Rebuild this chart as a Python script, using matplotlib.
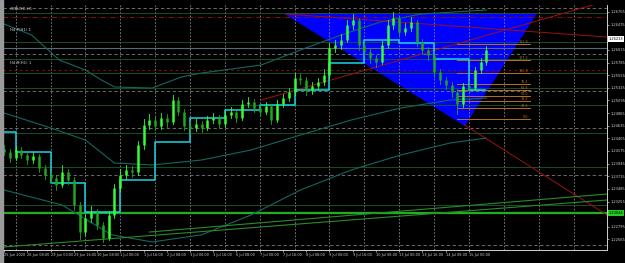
import numpy as np
import matplotlib.pyplot as plt
from matplotlib.patches import Polygon, Rectangle

# ---- data (bar index = hours since 25 Jun 16:00, weekends skipped) ----
candle_x = list(range(0, 336, 4))
open0 = 1.2422
closes = [1.2416, 1.2405, 1.2419, 1.2410, 1.2401, 1.2408, 1.2387, 1.2374, 1.2368, 1.2356,
          1.2379, 1.2365, 1.2319, 1.2270, 1.2296, 1.2307, 1.2283, 1.2259, 1.2301, 1.2350,
          1.2374, 1.2383, 1.2379, 1.2428, 1.2465, 1.2474, 1.2463, 1.2478, 1.2470, 1.2510,
          1.2489, 1.2463, 1.2459, 1.2467, 1.2459, 1.2474, 1.2478, 1.2467, 1.2483, 1.2489,
          1.2478, 1.2503, 1.2507, 1.2496, 1.2489, 1.2499, 1.2474, 1.2503, 1.2514, 1.2525,
          1.2550, 1.2547, 1.2528, 1.2536, 1.2543, 1.2556, 1.2605, 1.2610, 1.2620, 1.2647,
          1.2656, 1.2610, 1.2598, 1.2587, 1.2579, 1.2610, 1.2647, 1.2660, 1.2634, 1.2641,
          1.2652, 1.2616, 1.2601, 1.2592, 1.2561, 1.2547, 1.2538, 1.2525, 1.2503, 1.2536,
          1.2532, 1.2565, 1.2579, 1.2601]
highs = [1.2428, 1.2421, 1.2426, 1.2424, 1.2415, 1.2416, 1.2412, 1.2392, 1.2381, 1.2373,
         1.2392, 1.2385, 1.2370, 1.2324, 1.2303, 1.2318, 1.2312, 1.2288, 1.2309, 1.2358,
         1.2385, 1.2392, 1.2390, 1.2436, 1.2476, 1.2484, 1.2480, 1.2487, 1.2484, 1.2520,
         1.2516, 1.2494, 1.2470, 1.2475, 1.2472, 1.2481, 1.2486, 1.2483, 1.2490, 1.2497,
         1.2494, 1.2511, 1.2515, 1.2512, 1.2501, 1.2506, 1.2503, 1.2510, 1.2521, 1.2533,
         1.2559, 1.2558, 1.2552, 1.2543, 1.2550, 1.2566, 1.2614, 1.2620, 1.2630, 1.2655,
         1.2667, 1.2660, 1.2615, 1.2603, 1.2592, 1.2618, 1.2655, 1.2670, 1.2664, 1.2650,
         1.2661, 1.2656, 1.2622, 1.2607, 1.2597, 1.2566, 1.2553, 1.2543, 1.2530, 1.2542,
         1.2545, 1.2571, 1.2586, 1.2608]
lows = [1.2410, 1.2398, 1.2401, 1.2404, 1.2393, 1.2396, 1.2380, 1.2366, 1.2360, 1.2347,
        1.2352, 1.2357, 1.2310, 1.2258, 1.2264, 1.2289, 1.2275, 1.2252, 1.2255, 1.2296,
        1.2344, 1.2366, 1.2370, 1.2374, 1.2422, 1.2458, 1.2455, 1.2457, 1.2462, 1.2466,
        1.2483, 1.2456, 1.2451, 1.2453, 1.2452, 1.2455, 1.2468, 1.2460, 1.2462, 1.2477,
        1.2471, 1.2474, 1.2497, 1.2489, 1.2481, 1.2484, 1.2466, 1.2470, 1.2498, 1.2508,
        1.2520, 1.2539, 1.2520, 1.2522, 1.2530, 1.2538, 1.2551, 1.2598, 1.2603, 1.2615,
        1.2640, 1.2602, 1.2590, 1.2578, 1.2570, 1.2575, 1.2605, 1.2640, 1.2626, 1.2628,
        1.2636, 1.2609, 1.2594, 1.2584, 1.2553, 1.2540, 1.2530, 1.2516, 1.2484, 1.2498,
        1.2524, 1.2528, 1.2560, 1.2574]

# daily step line (cyan)
step_x = [-1, 8, 32, 56, 80, 104, 128, 152, 176, 200, 224, 248, 272, 296, 320, 331]
step_y = [1.24526, 1.24162, 1.23592, 1.23065, 1.23647, 1.24339, 1.24775, 1.24921, 1.25012,
          1.25285, 1.25776, 1.26195, 1.26140, 1.25849, 1.25285, 1.25285]

# slow moving-average curves (teal)
ma_x = [[0, 19, 38, 56, 67, 76, 102, 122, 136, 177, 204, 232, 259, 287, 332],
        [0, 26, 56, 76, 102, 136, 170, 204, 239, 273, 307, 332],
        [0, 40, 74, 102, 136, 170, 204, 239, 273, 307, 332]]
ma_y = [[1.26486, 1.26286, 1.25831, 1.25649, 1.25467, 1.25340, 1.25321, 1.25522, 1.25594,
         1.25740, 1.26013, 1.26286, 1.26523, 1.26668, 1.26741],
        [1.24866, 1.24648, 1.24375, 1.23956, 1.23920, 1.24011, 1.24193, 1.24466, 1.24739,
         1.24957, 1.25103, 1.25139],
        [1.23465, 1.23192, 1.22650, 1.22519, 1.22650, 1.23010, 1.23465, 1.23829, 1.24102,
         1.24320, 1.24411]]

# blue triangle and fibo
tri_x = [194, 366, 317]
tri_y = [1.26668, 1.26668, 1.24648]
fib_low, fib_high = 1.24757, 1.25600
fib_levels = [0.0, 23.6, 38.2, 50.0, 61.8, 76.4, 100.0, 127.2, 161.8]
fib_x = (312, 362)

# trend lines
red_lines = [((194, 1.26668), (415, 1.26249)),
             ((177, 1.25103), (417, 1.26923)),
             ((317, 1.24648), (415, 1.23010))]
green_lines = [((0, 1.22428), (415, 1.23283)),
               ((100, 1.22700), (415, 1.23392))]

grey_levels = [1.26777, 1.25940, 1.25267, 1.24593, 1.23738, 1.22464]
green_levels = [1.26686, 1.26159, 1.25849, 1.25594, 1.25321, 1.25012, 1.24502, 1.23884, 1.23192]
slate_level = 1.26049
red_level = 1.26614
red_dash_level = 1.25649
main_level = 1.23046
bid_level = 1.26213

date_labels = ["25 Jun 2020", "26 Jun 08:00", "29 Jun 00:00", "29 Jun 16:00", "30 Jun 08:00",
               "1 Jul 00:00", "1 Jul 16:00", "2 Jul 08:00", "3 Jul 00:00", "3 Jul 16:00",
               "6 Jul 08:00", "7 Jul 00:00", "7 Jul 16:00", "8 Jul 08:00", "9 Jul 00:00",
               "9 Jul 16:00", "10 Jul 08:00", "13 Jul 00:00", "13 Jul 16:00", "14 Jul 08:00",
               "15 Jul 00:00"]
date_pos = list(range(0, 321, 16))
# tick labels hidden behind the two price boxes are left out
price_ticks = [1.26705, 1.26475, 1.26015, 1.25785, 1.25555, 1.25325, 1.25095,
               1.24865, 1.24635, 1.24405, 1.24175, 1.23945, 1.23715, 1.23485, 1.23255,
               1.22795, 1.22565]

# ---- figure ----
fig = plt.figure(figsize=(6.25, 2.63), dpi=100, facecolor="black")
ax = fig.add_axes([3 / 625, 13 / 263, 604 / 625, 245 / 263])
ax.set_facecolor("black")
ax.set_xlim(-0.7, 415)
ax.set_ylim(1.22373, 1.26832)

# left grey strip of the window
fig.patches.append(Rectangle((0, 0), 2.5 / 625, 1, transform=fig.transFigure,
                             color="#9a9a9a", zorder=0))

# blue triangle (background object)
ax.add_patch(Polygon(list(zip(tri_x, tri_y)), closed=True, color="#0000ff", zorder=1))

# grid
for d in range(8, 415, 24):
    ax.axvline(d, color="#8a8a8a", lw=0.6, ls=(0, (2, 2)), zorder=2)
for lv in grey_levels:
    ax.axhline(lv, color="#7a7a7a", lw=0.6, ls=(0, (4, 3)), zorder=2)

for lv in green_levels:
    ax.axhline(lv, color="#1c5a2a", lw=0.6, zorder=2)
ax.axhline(slate_level, color="#5a6878", lw=0.8, zorder=2)
ax.axhline(red_level, color="#8b1010", lw=0.7, ls=(0, (5, 2, 1, 2)), zorder=2)
ax.axhline(red_dash_level, color="#8b1010", lw=0.8, ls=(0, (2, 3)), zorder=2)
ax.axhline(main_level, color="#1fae1f", lw=1.6, zorder=3)

# moving averages
for xs, ys in zip(ma_x, ma_y):
    ax.plot(xs, ys, color="#13675f", lw=0.8, zorder=3)

# trend lines
for (x0, y0), (x1, y1) in red_lines:
    ax.plot([x0, x1], [y0, y1], color="#a01010", lw=0.7, zorder=3)
for (x0, y0), (x1, y1) in green_lines:
    ax.plot([x0, x1], [y0, y1], color="#2a8a2a", lw=0.8, zorder=3)

# fibo levels
for f in fib_levels:
    lv = fib_low + (fib_high - fib_low) * f / 100
    ax.plot(fib_x, [lv, lv], color="#b8701c", lw=0.7, zorder=4)
    ax.text(fib_x[1] - 1, lv, f"{f:.1f}", color="#b8701c", fontsize=2.4,
            ha="right", va="bottom", zorder=4)

# step line
ax.step(step_x, step_y, where="post", color="#19d4e6", lw=1.1, zorder=5)

# candles
opens = [open0] + closes[:-1]
for x, o, h, l, c in zip(candle_x, opens, highs, lows, closes):
    col = "#33ff33" if c >= o else "#1ea81e"
    ax.plot([x, x], [l, h], color=col, lw=0.6, zorder=6)
    ax.plot([x, x], [o, c], color=col, lw=1.8, solid_capstyle="butt", zorder=6)

# axes look
for s in ["top", "left"]:
    ax.spines[s].set_visible(False)
for s in ["right", "bottom"]:
    ax.spines[s].set_color("#d0d0d0")
    ax.spines[s].set_linewidth(0.7)
ax.yaxis.tick_right()
ax.set_yticks(price_ticks)
ax.set_yticklabels([f"{p:.5f}" for p in price_ticks])
ax.set_xticks(date_pos)
ax.set_xticklabels(date_labels, ha="left")
ax.tick_params(axis="y", colors="#d0d0d0", labelsize=2.6, length=1.5, width=0.5, pad=0.8)
ax.tick_params(axis="x", colors="#d0d0d0", labelsize=2.5, length=1.5, width=0.5, pad=1)

# price boxes on the axis
ax.text(1.003, main_level, f"{main_level:.5f}", transform=ax.get_yaxis_transform(),
        fontsize=2.6, color="black", va="center", ha="left",
        bbox=dict(boxstyle="square,pad=0.2", fc="#22cc22", ec="none"))
ax.text(1.003, bid_level, f"{bid_level:.5f}", transform=ax.get_yaxis_transform(),
        fontsize=2.6, color="black", va="center", ha="left",
        bbox=dict(boxstyle="square,pad=0.2", fc="white", ec="none"))

# title and indicator captions
ax.text(0.012, 0.992, "GBPUSD,H1", transform=ax.transAxes, fontsize=2.8,
        color="#d0d0d0", va="top")
ax.text(0.012, 0.905, "H4 P(H1) 1", transform=ax.transAxes, fontsize=2.8,
        color="#d0d0d0", va="top")
ax.text(0.012, 0.77, "H4 R(H1) 1", transform=ax.transAxes, fontsize=2.8,
        color="#d0d0d0", va="top")

fig.savefig("out.png", dpi=100, facecolor="black")
